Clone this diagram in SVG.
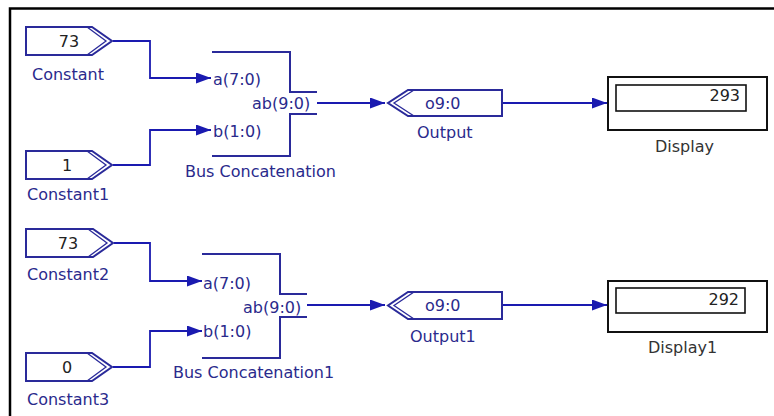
<svg xmlns="http://www.w3.org/2000/svg" width="774" height="416" viewBox="0 0 774 416">
<defs>
<marker id="arr" markerUnits="userSpaceOnUse" markerWidth="15" markerHeight="11" refX="15" refY="5.5" orient="auto" viewBox="0 0 15 11">
<path d="M0,0 L15,5.5 L0,11 Z" fill="#1a1ab0"/>
</marker>
<style>
.blk{fill:#fff;stroke:#2a2a9a;stroke-width:2}
.ln{fill:none;stroke:#2a2a9a;stroke-width:2}
.thin{fill:none;stroke:#2a2a9a;stroke-width:1.3}
.w{fill:none;stroke:#1a1ab0;stroke-width:1.8}
.lbl{font-family:"DejaVu Sans",sans-serif;font-size:16px;fill:#2a2a8c}
.val{font-family:"DejaVu Sans",sans-serif;font-size:16px;fill:#222}
.dlbl{font-family:"DejaVu Sans",sans-serif;font-size:16px;fill:#333}
.dout{fill:#fff;stroke:#111;stroke-width:2}
.din{fill:#fff;stroke:#111;stroke-width:1.6}
</style>
</defs>
<rect width="774" height="416" fill="#fff"/>
<path d="M10,416 V8.5 H774" fill="none" stroke="#000" stroke-width="2.5"/>

<g id="connectors">
<path class="w" d="M113,41 H150 V78 H211" marker-end="url(#arr)"/>
<path class="w" d="M113,165 H150 V130 H211" marker-end="url(#arr)"/>
<path class="w" d="M317,103 H385" marker-end="url(#arr)"/>
<path class="w" d="M502,103 H607" marker-end="url(#arr)"/>
<path class="w" d="M114,243 H150 V281 H202" marker-end="url(#arr)"/>
<path class="w" d="M113,367 H150 V331 H202" marker-end="url(#arr)"/>
<path class="w" d="M307,305 H385" marker-end="url(#arr)"/>
<path class="w" d="M502,305 H607" marker-end="url(#arr)"/>
</g>

<g id="constant">
<path class="blk" d="M26,27 H92 L112,41 L92,55 H26 Z"/>
<path class="thin" d="M87,27 L106,41 L87,55"/>
<text class="val" x="69" y="47" text-anchor="middle">73</text>
<text class="lbl" x="32" y="80">Constant</text>
</g>
<g id="constant1">
<path class="blk" d="M26,151 H92 L112,165 L92,179 H26 Z"/>
<path class="thin" d="M87,151 L106,165 L87,179"/>
<text class="val" x="67" y="171" text-anchor="middle">1</text>
<text class="lbl" x="27" y="200">Constant1</text>
</g>
<g id="constant2">
<path class="blk" d="M26,229 H93 L113,243 L93,257 H26 Z"/>
<path class="thin" d="M88,229 L107,243 L88,257"/>
<text class="val" x="68" y="249" text-anchor="middle">73</text>
<text class="lbl" x="27" y="280">Constant2</text>
</g>
<g id="constant3">
<path class="blk" d="M26,353 H92 L112,367 L92,381 H26 Z"/>
<path class="thin" d="M87,353 L106,367 L87,381"/>
<text class="val" x="67" y="373" text-anchor="middle">0</text>
<text class="lbl" x="27" y="405">Constant3</text>
</g>

<g id="bus-concatenation">
<path class="ln" d="M212,52 H290 V92 H317"/>
<path class="ln" d="M317,114 H290 V156 H212"/>
<text class="lbl" x="213" y="85">a(7:0)</text>
<text class="lbl" x="213" y="137">b(1:0)</text>
<text class="lbl" x="252" y="109">ab(9:0)</text>
<text class="lbl" x="185" y="177">Bus Concatenation</text>
</g>
<g id="bus-concatenation1">
<path class="ln" d="M202,254 H280 V294 H307"/>
<path class="ln" d="M307,317 H280 V358 H202"/>
<text class="lbl" x="203" y="289">a(7:0)</text>
<text class="lbl" x="203" y="337">b(1:0)</text>
<text class="lbl" x="243" y="313">ab(9:0)</text>
<text class="lbl" x="173" y="378">Bus Concatenation1</text>
</g>

<g id="output">
<path class="blk" d="M408,90 H502 V116 H408 L388,103 Z"/>
<path class="thin" d="M414,90 L394,103 L414,116"/>
<text class="lbl" x="425" y="109">o9:0</text>
<text class="lbl" x="417" y="138">Output</text>
</g>
<g id="output1">
<path class="blk" d="M408,292 H502 V319 H408 L388,305.5 Z"/>
<path class="thin" d="M414,292 L394,305.5 L414,319"/>
<text class="lbl" x="425" y="311">o9:0</text>
<text class="lbl" x="410" y="342">Output1</text>
</g>

<g id="display">
<rect class="dout" x="608" y="77" width="159" height="53"/>
<rect class="din" x="616" y="85" width="130" height="26"/>
<text class="val" x="740" y="101" text-anchor="end">293</text>
<text class="dlbl" x="655" y="152">Display</text>
</g>
<g id="display1">
<rect class="dout" x="608" y="281" width="159" height="51"/>
<rect class="din" x="616" y="288" width="129" height="25"/>
<text class="val" x="739" y="305" text-anchor="end">292</text>
<text class="dlbl" x="648" y="353">Display1</text>
</g>
</svg>
